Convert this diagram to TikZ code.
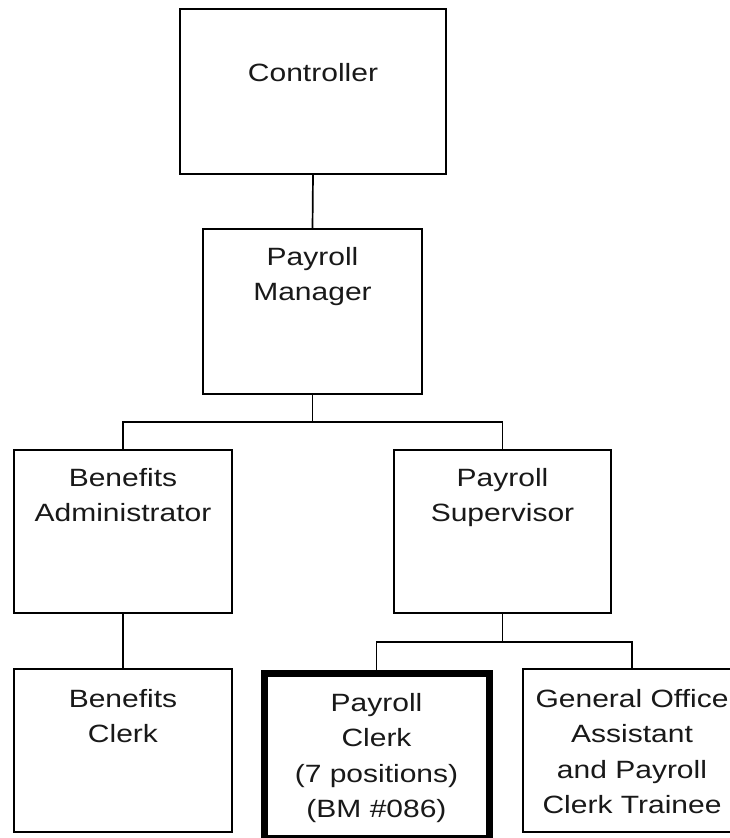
\documentclass[tikz,border=0pt]{standalone}
\usepackage{fontspec}
\setmainfont{Liberation Sans}[FakeStretch=1.2]
\begin{document}
\begin{tikzpicture}[x=1pt,y=-1pt]
\tikzset{
  box/.style={draw=black, line width=1.7pt, rectangle, inner sep=0pt, outer sep=0pt},
  bigbox/.style={box, line width=7pt},
  lbl/.style={anchor=north, inner sep=0pt, outer sep=0pt, align=center, text=black!90,
              font=\fontsize{25}{35.5}\selectfont},
  link/.style={draw=black, line width=1.7pt},
}
\useasboundingbox (0,0) rectangle (730,838);
\clip (0,0) rectangle (730,838);
\fill[white] (0,0) rectangle (730,838);

% boxes
\node[box, minimum width=266pt, minimum height=165pt] (ctrl) at (313,91.5) {};
\node[box, minimum width=219pt, minimum height=165pt] (mgr) at (312.5,311.5) {};
\node[box, minimum width=218pt, minimum height=163pt] (badm) at (123,531.5) {};
\node[box, minimum width=217pt, minimum height=163pt] (sup) at (502.5,531.5) {};
\node[box, minimum width=218pt, minimum height=163pt] (bclk) at (123,750.5) {};
\node[bigbox, minimum width=225pt, minimum height=165.5pt] (pclk) at (376.5,755.75) {};
\node[box, minimum width=218pt, minimum height=163pt] (gen) at (632,750.5) {};

% labels
\path (ctrl.north) ++(0,50) node[lbl] (ctrlT) {\rule{0pt}{22pt}Controller};
\path (mgr.north) ++(0,14) node[lbl] (mgrT) {\rule{0pt}{22pt}Payroll\\Manager};
\path (badm.north) ++(0,14) node[lbl] (badmT) {\rule{0pt}{22pt}Benefits\\Administrator};
\path (sup.north) ++(0,14) node[lbl] (supT) {\rule{0pt}{22pt}Payroll\\Supervisor};
\path (bclk.north) ++(0,16) node[lbl] (bclkT) {\rule{0pt}{22pt}Benefits\\Clerk};
\path (pclk.north) ++(0,16) node[lbl] (pclkT) {\rule{0pt}{22pt}Payroll\\Clerk\\(7 positions)\\(BM \#086)};
\path (gen.north) ++(0,16) node[lbl] (genT) {\rule{0pt}{22pt}General Office\\Assistant\\and Payroll\\Clerk Trainee};

% connectors
\draw[link] (ctrl.south) -- (mgr.north);
\draw[link] (mgr.south) -- ++(0,28) coordinate (j1);
\draw[link] (badm.north) |- (j1) -| (sup.north);
\draw[link] (badm.south) -- (bclk.north);
\draw[link] (sup.south) -- ++(0,29) coordinate (j2);
\draw[link] (pclk.north) |- (j2) -| (gen.north);
\end{tikzpicture}
\end{document}
